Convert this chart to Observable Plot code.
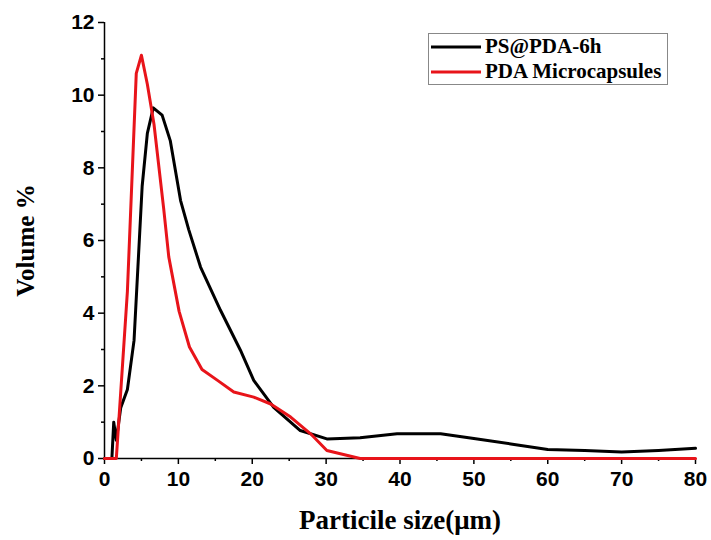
<!DOCTYPE html>
<html>
<head>
<meta charset="utf-8">
<script src="https://cdn.jsdelivr.net/npm/d3@7"></script>
<script src="https://cdn.jsdelivr.net/npm/@observablehq/plot@0.6"></script>
<style>
  body { margin: 0; background: white; }
  #wrap { position: relative; width: 711px; height: 540px; }
  #legend { position: absolute; left: 428px; top: 33px; width: 238px; height: 50px; border: 1px solid #888; background: white;
    font-family: "Liberation Serif", "Times New Roman", serif; font-weight: bold; font-size: 21px; }
  .item { display: flex; align-items: center; height: 25px; }
  .item svg { margin-left: 2px; margin-right: 4px; }
</style>
</head>
<body>
<div id="wrap"></div>
<script>
const seriesNames = ["PS@PDA-6h", "PDA Microcapsules"];
const seriesColors = ["#000000", "#e8141a"];

const blackX = [0, 1.0, 1.25, 1.6, 2.2, 3.1, 4.0, 5.1, 5.8, 6.6, 7.8, 8.9, 10.3, 11.4, 13.0, 15.7, 18.4, 20.2, 22.9, 26.5, 30.1, 34.6, 39.6, 45.5, 50, 55, 60, 65, 70, 75, 80];
const blackY = [0, 0, 1.0, 0.5, 1.4, 1.9, 3.25, 7.5, 8.95, 9.65, 9.45, 8.75, 7.1, 6.3, 5.27, 4.08, 2.98, 2.15, 1.41, 0.77, 0.54, 0.57, 0.68, 0.68, 0.55, 0.4, 0.25, 0.22, 0.18, 0.22, 0.28];

const redX = [0, 1.6, 3.1, 4.3, 5.0, 5.8, 6.7, 8.0, 8.7, 10.1, 11.5, 13.2, 15.3, 17.5, 20.2, 22.5, 25.2, 27.9, 30.1, 34.6, 80];
const redY = [0, 0, 4.6, 10.6, 11.1, 10.3, 9.2, 6.9, 5.55, 4.05, 3.07, 2.45, 2.15, 1.83, 1.69, 1.5, 1.14, 0.68, 0.22, 0, 0];

const xMajor = d3.range(0, 81, 10);
const xMinor = d3.range(5, 80, 10);
const yMajor = d3.range(0, 13, 2);
const yMinor = d3.range(1, 12, 2);
const xTitle = "Particile size(μm)";
const yTitle = "Volume %";

const black = blackX.map((x, i) => ({x, y: blackY[i], s: seriesNames[0]}));
const red = redX.map((x, i) => ({x, y: redY[i], s: seriesNames[1]}));

const tickFont = {fontFamily: "'Liberation Sans', Arial, sans-serif", fontWeight: "bold", fontSize: 21};
const serif = "'Liberation Serif', 'Times New Roman', serif";

const chart = Plot.plot({
  width: 711,
  height: 540,
  marginLeft: 104,
  marginRight: 16,
  marginTop: 22,
  marginBottom: 82,
  x: {domain: [0, 80]},
  y: {domain: [0, 12]},
  style: {background: "white", overflow: "visible"},
  marks: [
    Plot.axisX({ticks: xMajor, tickSize: 6, tickPadding: 7, strokeWidth: 1.5, color: "black", label: null, ...tickFont}),
    Plot.axisX({ticks: xMinor, tickSize: 3, strokeWidth: 1.5, color: "black", label: null, tickFormat: () => ""}),
    Plot.axisY({ticks: yMajor, tickSize: 6, tickPadding: 4, strokeWidth: 1.5, color: "black", label: null, ...tickFont}),
    Plot.axisY({ticks: yMinor, tickSize: 3, strokeWidth: 1.5, color: "black", label: null, tickFormat: () => ""}),
    Plot.ruleX([0], {stroke: "black", strokeWidth: 1.5}),
    Plot.ruleY([0], {stroke: "black", strokeWidth: 1.5}),
    Plot.line(black, {x: "x", y: "y", stroke: seriesColors[0], strokeWidth: 3, strokeLinejoin: "round"}),
    Plot.line(red, {x: "x", y: "y", stroke: seriesColors[1], strokeWidth: 3, strokeLinejoin: "round"}),
    Plot.text([xTitle], {frameAnchor: "bottom", dy: 62, lineAnchor: "middle", textAnchor: "middle", text: d => d, fill: "black",
      fontFamily: serif, fontWeight: "bold", fontSize: 27}),
    Plot.text([yTitle], {frameAnchor: "left", dx: -79, rotate: -90, lineAnchor: "middle", textAnchor: "middle", text: d => d, fill: "black",
      fontFamily: serif, fontWeight: "bold", fontSize: 25})
  ]
});

const wrap = document.getElementById("wrap");
wrap.appendChild(chart);

const legend = document.createElement("div");
legend.id = "legend";
seriesNames.forEach((name, i) => {
  const item = document.createElement("div");
  item.className = "item";
  item.innerHTML = `<svg width="50" height="6"><line x1="0" x2="50" y1="3" y2="3" stroke="${seriesColors[i]}" stroke-width="3"/></svg><span>${name}</span>`;
  legend.appendChild(item);
});
wrap.appendChild(legend);
</script>
</body>
</html>
